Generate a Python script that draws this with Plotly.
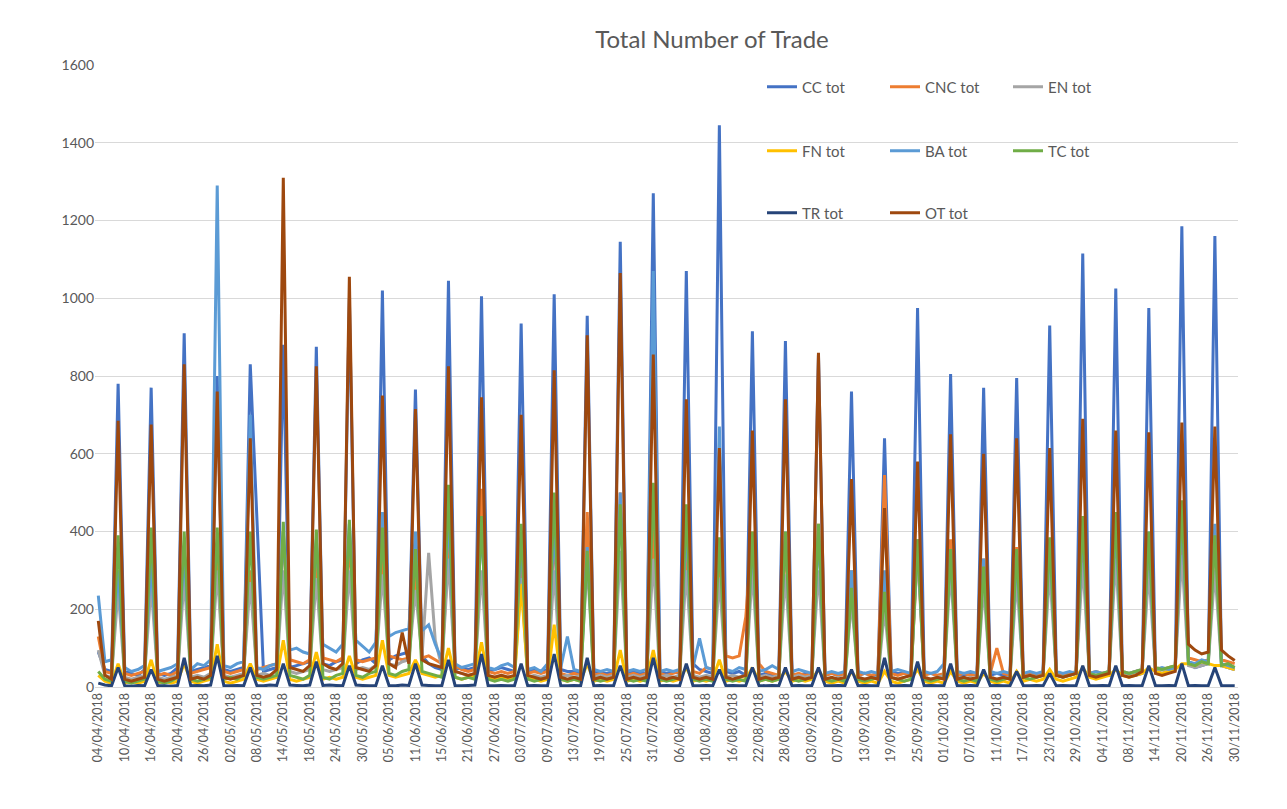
import plotly.graph_objects as go

# Daily totals per desk, one value per trading day
tick_labels = [
    "04/04/2018", "10/04/2018", "16/04/2018", "20/04/2018", "26/04/2018", "02/05/2018",
    "08/05/2018", "14/05/2018", "18/05/2018", "24/05/2018", "30/05/2018", "05/06/2018",
    "11/06/2018", "15/06/2018", "21/06/2018", "27/06/2018", "03/07/2018", "09/07/2018",
    "13/07/2018", "19/07/2018", "25/07/2018", "31/07/2018", "06/08/2018", "10/08/2018",
    "16/08/2018", "22/08/2018", "28/08/2018", "03/09/2018", "07/09/2018", "13/09/2018",
    "19/09/2018", "25/09/2018", "01/10/2018", "07/10/2018", "11/10/2018", "17/10/2018",
    "23/10/2018", "29/10/2018", "04/11/2018", "08/11/2018", "14/11/2018", "20/11/2018",
    "26/11/2018", "30/11/2018",
]
label_step = 4

cc_tot = [
    90, 45, 40, 780,
    40, 35, 30, 45, 770,
    35, 30, 35, 50, 910,
    40, 45, 50, 55, 800,
    45, 40, 45, 50, 830,
    430, 40, 45, 50, 880,
    50, 55, 60, 65, 875,
    60, 55, 65, 70, 1000,
    60, 70, 75, 60, 1020,
    70, 80, 85, 90, 765,
    80, 60, 50, 45, 1045,
    45, 50, 45, 50, 1005,
    40, 45, 50, 45, 40, 935,
    40, 45, 40, 45, 1010,
    45, 40, 40, 35, 955,
    40, 35, 35, 40, 1145,
    35, 40, 35, 35, 1270,
    40, 35, 40, 35, 1070,
    60, 45, 40, 35, 1445,
    40, 35, 40, 30, 915,
    30, 35, 30, 30, 890,
    35, 30, 35, 30, 855,
    30, 35, 30, 35, 760,
    30, 35, 30, 30, 640,
    40, 35, 35, 30, 975,
    35, 35, 30, 30, 805,
    30, 30, 35, 30, 770,
    30, 35, 30, 30, 795,
    30, 30, 35, 35, 930,
    35, 30, 30, 35, 1115,
    35, 30, 35, 30, 1025,
    30, 35, 30, 35, 975,
    40, 35, 40, 45, 1185,
    60, 50, 55, 60, 1160,
    55, 50, 45,
]

cnc_tot = [
    130, 40, 35, 300,
    35, 30, 35, 40, 320,
    30, 35, 30, 40, 350,
    35, 40, 45, 50, 330,
    40, 35, 40, 45, 300,
    45, 50, 55, 60, 400,
    70, 65, 60, 70, 330,
    75, 70, 65, 75, 380,
    70, 65, 70, 75, 350,
    80, 75, 70, 75, 300,
    75, 80, 70, 60, 360,
    55, 45, 40, 45, 510,
    40, 35, 40, 35, 40, 350,
    35, 40, 35, 40, 400,
    35, 30, 35, 30, 450,
    30, 35, 30, 35, 500,
    30, 35, 30, 35, 420,
    35, 30, 35, 40, 380,
    40, 35, 50, 45, 350,
    80, 75, 80, 180, 400,
    60, 40, 35, 30, 380,
    30, 35, 30, 35, 420,
    30, 35, 30, 35, 300,
    30, 35, 30, 35, 545,
    35, 30, 35, 30, 360,
    30, 35, 30, 35, 380,
    30, 35, 30, 35, 330,
    35, 100, 35, 30, 360,
    30, 35, 30, 35, 350,
    35, 30, 35, 40, 380,
    35, 40, 35, 40, 400,
    40, 35, 40, 45, 370,
    50, 45, 50, 55, 420,
    75, 70, 65, 70, 380,
    70, 65, 60,
]

en_tot = [
    95, 30, 25, 250,
    25, 20, 25, 30, 260,
    25, 20, 25, 30, 280,
    25, 30, 25, 35, 300,
    30, 25, 30, 35, 270,
    30, 35, 30, 40, 300,
    40, 35, 40, 45, 280,
    45, 40, 45, 50, 300,
    45, 50, 45, 55, 290,
    60, 55, 65, 70, 250,
    80, 345, 120, 50, 330,
    40, 35, 30, 35, 300,
    30, 25, 30, 25, 30, 280,
    25, 30, 25, 30, 300,
    25, 30, 25, 30, 320,
    25, 30, 25, 30, 350,
    25, 30, 25, 30, 330,
    25, 30, 25, 30, 300,
    30, 25, 30, 25, 280,
    25, 30, 25, 30, 300,
    25, 30, 25, 30, 290,
    25, 30, 25, 30, 300,
    25, 20, 25, 20, 220,
    25, 20, 25, 20, 200,
    25, 20, 25, 30, 350,
    25, 20, 25, 30, 300,
    25, 20, 25, 20, 260,
    25, 20, 25, 20, 280,
    25, 30, 25, 30, 300,
    30, 25, 30, 35, 320,
    35, 30, 35, 40, 330,
    35, 30, 35, 40, 300,
    40, 45, 40, 45, 340,
    55, 50, 55, 60, 300,
    55, 50, 45,
]

fn_tot = [
    30, 15, 10, 60,
    10, 15, 10, 15, 70,
    10, 15, 10, 15, 60,
    15, 10, 15, 20, 110,
    15, 10, 15, 20, 60,
    20, 15, 20, 25, 120,
    20, 15, 20, 25, 90,
    20, 25, 20, 25, 80,
    25, 20, 25, 30, 120,
    30, 25, 30, 35, 70,
    35, 30, 25, 30, 100,
    25, 20, 25, 30, 115,
    25, 20, 25, 20, 25, 265,
    25, 20, 15, 20, 160,
    20, 15, 20, 15, 60,
    15, 20, 15, 20, 95,
    15, 20, 15, 20, 95,
    15, 20, 15, 20, 50,
    15, 20, 15, 20, 70,
    15, 20, 15, 20, 50,
    15, 20, 15, 20, 40,
    15, 20, 15, 20, 45,
    15, 10, 15, 10, 40,
    15, 10, 15, 10, 40,
    15, 10, 15, 20, 45,
    15, 10, 15, 10, 40,
    15, 10, 15, 10, 35,
    15, 10, 15, 10, 40,
    15, 20, 15, 20, 45,
    20, 15, 20, 25, 50,
    25, 20, 25, 30, 45,
    30, 25, 30, 35, 50,
    40, 35, 40, 45, 60,
    60, 55, 65, 60, 55,
    55, 50, 45,
]

ba_tot = [
    235, 65, 70, 300,
    50, 40, 45, 55, 320,
    40, 45, 50, 60, 350,
    45, 60, 55, 70, 1290,
    55, 50, 60, 65, 700,
    50, 45, 55, 60, 400,
    95, 100, 90, 85, 380,
    110, 100, 90, 110, 420,
    120, 105, 90, 115, 450,
    130, 140, 145, 150, 400,
    145, 160, 110, 70, 450,
    60, 50, 55, 60, 420,
    50, 45, 55, 60, 50, 380,
    45, 50, 40, 60, 420,
    50, 130, 45, 40, 360,
    45, 40, 45, 40, 500,
    40, 45, 40, 45, 1070,
    40, 45, 40, 45, 420,
    50, 125, 50, 45, 670,
    45, 40, 50, 45, 380,
    40, 45, 55, 45, 400,
    40, 45, 40, 35, 400,
    35, 40, 35, 40, 300,
    40, 35, 40, 35, 300,
    40, 45, 40, 35, 380,
    40, 35, 40, 60, 350,
    40, 35, 40, 35, 330,
    40, 35, 40, 35, 340,
    35, 40, 35, 40, 380,
    40, 35, 40, 35, 420,
    35, 40, 35, 40, 430,
    40, 35, 40, 45, 400,
    45, 50, 45, 50, 450,
    65, 60, 70, 65, 420,
    60, 55, 50,
]

tc_tot = [
    40, 20, 15, 390,
    15, 10, 15, 20, 410,
    15, 10, 15, 25, 400,
    20, 15, 20, 25, 410,
    20, 25, 20, 30, 400,
    25, 20, 25, 30, 425,
    30, 25, 20, 30, 405,
    25, 20, 30, 35, 430,
    30, 25, 35, 40, 410,
    35, 30, 40, 45, 355,
    40, 35, 30, 25, 520,
    25, 20, 25, 20, 440,
    20, 15, 20, 15, 20, 420,
    20, 15, 20, 25, 500,
    20, 15, 20, 15, 350,
    20, 15, 20, 25, 470,
    20, 15, 20, 15, 525,
    20, 15, 20, 25, 470,
    20, 15, 20, 15, 385,
    20, 15, 20, 15, 400,
    15, 20, 15, 20, 400,
    20, 15, 20, 25, 420,
    20, 15, 20, 15, 255,
    20, 15, 20, 25, 245,
    25, 20, 15, 20, 380,
    20, 15, 20, 25, 355,
    20, 15, 20, 15, 310,
    20, 15, 20, 25, 355,
    25, 20, 25, 30, 385,
    30, 25, 30, 35, 440,
    35, 30, 35, 40, 450,
    40, 35, 40, 45, 400,
    50, 45, 50, 55, 480,
    60, 55, 65, 60, 390,
    55, 60, 50,
]

tr_tot = [
    10, 5, 3, 50,
    3, 2, 4, 3, 45,
    4, 3, 2, 4, 75,
    3, 4, 3, 5, 80,
    4, 3, 4, 3, 50,
    4, 3, 5, 4, 60,
    5, 4, 3, 5, 65,
    4, 5, 4, 3, 55,
    5, 4, 3, 4, 55,
    4, 3, 5, 4, 60,
    5, 4, 3, 4, 70,
    4, 3, 4, 5, 85,
    4, 3, 4, 3, 4, 60,
    3, 4, 3, 4, 85,
    4, 3, 4, 3, 75,
    3, 4, 3, 4, 55,
    4, 3, 4, 3, 75,
    3, 4, 3, 4, 60,
    4, 3, 4, 3, 45,
    3, 4, 3, 4, 50,
    4, 3, 4, 3, 50,
    3, 4, 3, 4, 50,
    4, 3, 4, 3, 45,
    3, 4, 3, 4, 75,
    4, 3, 4, 3, 65,
    3, 4, 3, 4, 60,
    4, 3, 4, 3, 45,
    3, 4, 3, 4, 40,
    4, 3, 4, 3, 35,
    3, 4, 3, 4, 55,
    4, 3, 4, 3, 55,
    3, 4, 3, 4, 55,
    4, 3, 4, 3, 60,
    3, 4, 3, 4, 50,
    4, 3, 3,
]

ot_tot = [
    170, 30, 20, 685,
    20, 15, 20, 25, 675,
    20, 15, 20, 25, 830,
    20, 25, 20, 30, 760,
    25, 20, 25, 30, 640,
    30, 25, 30, 45, 1310,
    50, 45, 40, 55, 825,
    60, 50, 45, 60, 1055,
    50, 45, 40, 55, 750,
    60, 50, 140, 60, 715,
    70, 60, 55, 50, 825,
    40, 35, 30, 35, 745,
    30, 25, 30, 25, 30, 700,
    30, 25, 20, 25, 815,
    25, 20, 25, 20, 905,
    20, 25, 20, 25, 1065,
    20, 25, 20, 25, 855,
    25, 20, 25, 20, 740,
    25, 20, 25, 20, 615,
    25, 20, 25, 30, 660,
    20, 25, 20, 25, 740,
    20, 25, 20, 25, 860,
    20, 25, 20, 25, 535,
    25, 20, 25, 20, 460,
    25, 20, 25, 30, 580,
    25, 20, 25, 20, 650,
    20, 25, 20, 25, 600,
    25, 20, 25, 20, 640,
    25, 30, 25, 30, 615,
    30, 25, 30, 35, 690,
    30, 25, 30, 35, 660,
    30, 25, 30, 40, 655,
    35, 30, 35, 40, 680,
    110, 95, 85, 90, 670,
    95, 80, 68,
]

n_days = len(cc_tot)
day_index = list(range(n_days))
for s in (cnc_tot, en_tot, fn_tot, ba_tot, tc_tot, tr_tot, ot_tot):
    assert len(s) == n_days, len(s)

FONT = "Lato, 'Open Sans', sans-serif"
TEXT = "#595959"

series = [
    ("CC tot", cc_tot, "#4472C4", "legend"),
    ("CNC tot", cnc_tot, "#ED7D31", "legend"),
    ("EN tot", en_tot, "#A5A5A5", "legend"),
    ("FN tot", fn_tot, "#FFC000", "legend2"),
    ("BA tot", ba_tot, "#5B9BD5", "legend2"),
    ("TC tot", tc_tot, "#70AD47", "legend2"),
    ("TR tot", tr_tot, "#264478", "legend3"),
    ("OT tot", ot_tot, "#9E480E", "legend3"),
]

fig = go.Figure()
for name, values, color, leg in series:
    fig.add_trace(go.Scatter(
        x=day_index, y=values, name=name, mode="lines",
        line=dict(color=color, width=3),
        legend=leg,
    ))

# plot area: x 95..1238 px, y 65..687 px
L, R, T, B = 95, 1287 - 1238, 65, 809 - 687
plot_w, plot_h = 1287 - L - R, 809 - T - B


def legend_row(ypix):
    return dict(
        orientation="h", x=(762 - L) / plot_w, xanchor="left",
        y=(809 - B - ypix) / plot_h, yanchor="middle",
        font=dict(family=FONT, size=15, color=TEXT),
        bgcolor="rgba(0,0,0,0)", entrywidth=78, entrywidthmode="pixels",
        itemwidth=30, traceorder="normal",
    )


fig.update_layout(
    width=1287, height=809,
    margin=dict(l=L, r=R, t=T, b=B),
    paper_bgcolor="white", plot_bgcolor="white",
    font=dict(family=FONT, color=TEXT),
    title=dict(text="Total Number of Trade", x=712 / 1287, xanchor="center",
               y=1 - 40 / 809, yanchor="middle",
               font=dict(family=FONT, size=24, color=TEXT)),
    showlegend=True,
    legend=legend_row(87),
    legend2=legend_row(151),
    legend3=legend_row(213),
    xaxis=dict(
        range=[-0.5, n_days - 0.5],
        tickmode="array",
        tickvals=day_index[::label_step],
        ticktext=tick_labels,
        tickangle=-90,
        tickfont=dict(family=FONT, size=12.5, color=TEXT),
        showgrid=False, zeroline=False,
        showline=True, linecolor="#D9D9D9", linewidth=1,
        ticks="",
    ),
    yaxis=dict(
        range=[0, 1600], dtick=200,
        tickfont=dict(family=FONT, size=14, color=TEXT),
        showgrid=True, gridcolor="#D9D9D9", gridwidth=1,
        zeroline=False, showline=False, ticks="",
    ),
)

fig.write_html("out.html")
